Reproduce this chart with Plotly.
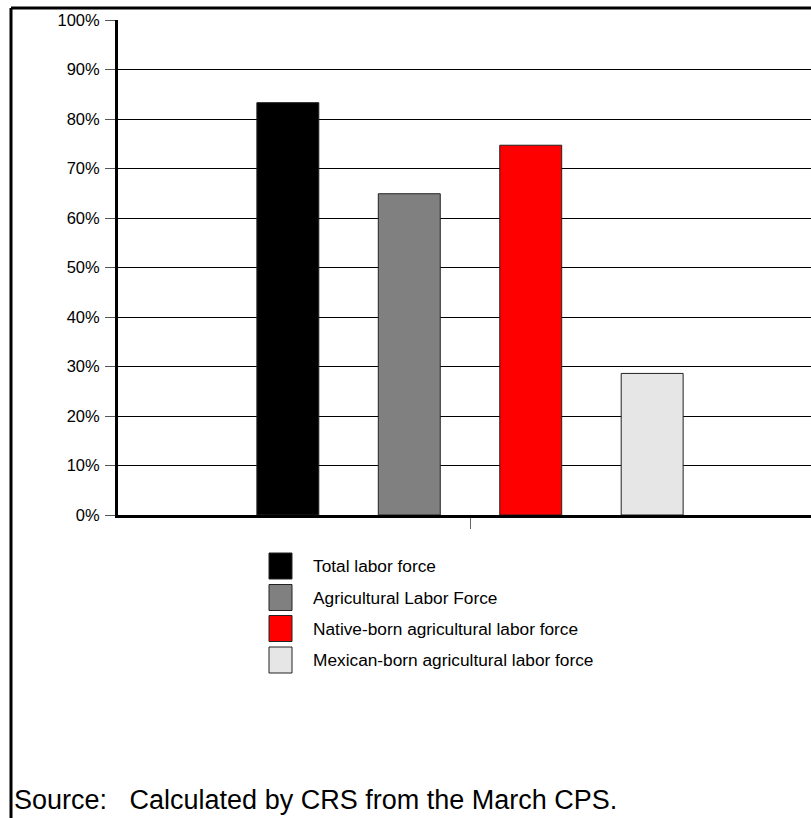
import plotly.graph_objects as go

# ---- data ----
series_names = [
    "Total labor force",
    "Agricultural Labor Force",
    "Native-born agricultural labor force",
    "Mexican-born agricultural labor force",
]
series_values = [83.3, 64.9, 74.7, 28.6]
series_colors = ["#000000", "#808080", "#FF0000", "#E6E6E6"]
category = ["All"]
y_tick_values = [0, 10, 20, 30, 40, 50, 60, 70, 80, 90, 100]
y_tick_labels = [f"{v}%" for v in y_tick_values]
source_note = "Source:\u00a0\u00a0\u00a0Calculated by CRS from the March CPS."

W, H = 811, 818
ML, MR, MT, MB = 118, 0, 20, 303
PW, PH = W - ML - MR, H - MT - MB


def px(x):
    return (x - ML) / PW


def py(y):
    return (H - MB - y) / PH


FONT = "Liberation Sans, Arial, sans-serif"

fig = go.Figure()
for name, val, col in zip(series_names, series_values, series_colors):
    fig.add_trace(go.Bar(
        x=category, y=[val], name=name,
        marker=dict(color=col, line=dict(color="#222222", width=1)),
        showlegend=False,
    ))

shapes = []
annotations = []
# outer frame (left and top thick lines)
shapes.append(dict(type="line", xref="paper", yref="paper",
                   x0=px(11), x1=px(W + 5), y0=py(8), y1=py(8),
                   line=dict(color="black", width=3)))
shapes.append(dict(type="line", xref="paper", yref="paper",
                   x0=px(11), x1=px(11), y0=py(8), y1=py(H + 5),
                   line=dict(color="black", width=3)))

# manual legend
box_x0, box_x1 = 269, 292
row_top = [553, 584.5, 615.5, 647]
box_h = 26
for i, (name, col) in enumerate(zip(series_names, series_colors)):
    t = row_top[i]
    shapes.append(dict(type="rect", xref="paper", yref="paper",
                       x0=px(box_x0), x1=px(box_x1), y0=py(t + box_h), y1=py(t),
                       fillcolor=col, line=dict(color="#222222", width=1)))
    annotations.append(dict(xref="paper", yref="paper", x=px(311), y=py(t + box_h / 2),
                            xanchor="left", yanchor="middle", showarrow=False,
                            text=name, font=dict(family=FONT, size=17.3, color="black")))

annotations.append(dict(xref="paper", yref="paper", x=px(12), y=py(800),
                        xanchor="left", yanchor="middle", showarrow=False,
                        text=source_note, font=dict(family=FONT, size=27, color="black")))

fig.update_layout(
    width=W, height=H,
    margin=dict(l=ML, r=MR, t=MT, b=MB),
    paper_bgcolor="white", plot_bgcolor="white",
    barmode="group", bargap=0.31, bargroupgap=0.49,
    showlegend=False,
    shapes=shapes, annotations=annotations,
    font=dict(family=FONT, color="black"),
    xaxis=dict(
        type="category",
        range=[-0.5, -0.5 + PW / 704],
        showticklabels=False,
        ticks="outside", ticklen=11, tickcolor="#666666", tickwidth=1,
        showline=True, linecolor="black", linewidth=3,
        showgrid=False, zeroline=False, fixedrange=True,
    ),
    yaxis=dict(
        range=[0, 100],
        tickvals=y_tick_values, ticktext=y_tick_labels,
        tickfont=dict(family=FONT, size=16.5, color="black"),
        ticks="outside", ticklen=10, tickcolor="#555555", tickwidth=1,
        ticklabelstandoff=2,
        showline=True, linecolor="black", linewidth=3,
        showgrid=True, gridcolor="black", gridwidth=1,
        zeroline=False, fixedrange=True,
    ),
)

fig.write_html("out.html")
